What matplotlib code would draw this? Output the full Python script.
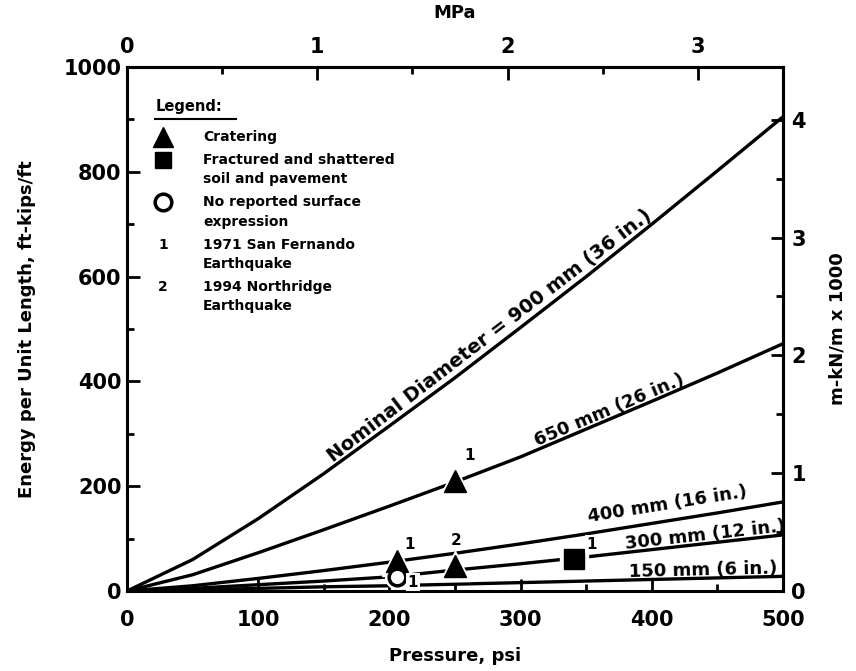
import matplotlib
matplotlib.use("Agg")
import matplotlib.pyplot as plt
import numpy as np

# ---------------- data ----------------
pressure_psi = [0, 50, 100, 150, 200, 250, 300, 350, 400, 450, 500]
energy_900mm = [0, 60, 138, 224, 315, 407, 503, 600, 700, 802, 905]
energy_650mm = [0, 31, 73, 117, 162, 208, 256, 309, 362, 416, 472]
energy_400mm = [0, 10, 24, 39, 55, 72, 90, 109, 129, 149, 170]
energy_300mm = [0, 5, 12, 19, 27, 40, 52, 65, 79, 93, 107]
energy_150mm = [0, 2, 5, 8, 10, 13, 16, 19, 22, 25, 28]

line_labels = ["Nominal Diameter = 900 mm (36 in.)", "650 mm (26 in.)",
               "400 mm (16 in.)", "300 mm (12 in.)", "150 mm (6 in.)"]
label_pos_psi = [276, 368, 412, 441, 439]
label_pos_energy = [488, 345, 166, 107, 40]

cratering_psi = [250, 206, 250]
cratering_energy = [210, 58, 48]
fractured_psi = [341]
fractured_energy = [62]
no_surface_psi = [206]
no_surface_energy = [27]

event_text = ["1", "1", "2", "1", "1"]
event_psi = [261, 215, 251, 218, 354]
event_energy = [258, 88, 97, 17, 89]

x_ticks = [0, 100, 200, 300, 400, 500]
y_ticks = [0, 200, 400, 600, 800, 1000]
mpa_ticks = [0, 1, 2, 3]
mkn_ticks = [0, 1, 2, 3, 4]

PSI_TO_MPA = 0.00689476
FTKIP_TO_MKN1000 = 4.448 / 1000.0

# ---------------- figure ----------------
plt.rcParams["font.family"] = ["DejaVu Sans"]
plt.rcParams["font.weight"] = "bold"
plt.rcParams["axes.labelweight"] = "bold"
fig = plt.figure(figsize=(8.56, 6.71), dpi=100)
ax = fig.add_axes([127 / 856, 1 - 591 / 671, 656 / 856, 524 / 671])

lw = 2.4
for e in [energy_900mm, energy_650mm, energy_400mm, energy_300mm, energy_150mm]:
    ax.plot(pressure_psi, e, color="black", lw=lw, zorder=2, solid_capstyle="round",
            solid_joinstyle="round")

# markers with white halo (gap in lines)
ax.plot(cratering_psi, cratering_energy, ls="none", marker="^", ms=22, color="white", zorder=3)
ax.plot(cratering_psi, cratering_energy, ls="none", marker="^", ms=16, color="black", zorder=4)
ax.plot(fractured_psi, fractured_energy, ls="none", marker="s", ms=20, color="white", zorder=3)
ax.plot(fractured_psi, fractured_energy, ls="none", marker="s", ms=15, color="black", zorder=4)
ax.plot(no_surface_psi, no_surface_energy, ls="none", marker="o", ms=17, color="white", zorder=3)
ax.plot(no_surface_psi, no_surface_energy, ls="none", marker="o", ms=12, mfc="white",
        mec="black", mew=2.5, zorder=4)

for t, xx, yy in zip(event_text, event_psi, event_energy):
    ax.text(xx, yy, t, fontsize=11, ha="center", va="center", zorder=5,
            bbox=dict(boxstyle="square,pad=0.1", fc="white", ec="none"))

ax.set_xlim(0, 500)
ax.set_ylim(0, 1000)

# line labels rotated along the curves
fig.canvas.draw()
curves = [energy_900mm, energy_650mm, energy_400mm, energy_300mm, energy_150mm]
sizes = [14, 13, 13, 13, 13]
for lab, px, py, e, fs in zip(line_labels, label_pos_psi, label_pos_energy, curves, sizes):
    slope = np.interp(px + 20, pressure_psi, e) - np.interp(px - 20, pressure_psi, e)
    p1 = ax.transData.transform((px - 20, 0))
    p2 = ax.transData.transform((px + 20, slope))
    ang = np.degrees(np.arctan2(p2[1] - p1[1], p2[0] - p1[0]))
    ax.text(px, py, lab, fontsize=fs, rotation=ang, rotation_mode="anchor",
            ha="center", va="center", zorder=5)

# ticks
ax.set_xticks(x_ticks)
ax.set_yticks(y_ticks)
ax.set_xticks(np.arange(50, 500, 100), minor=True)
ax.set_yticks(np.arange(100, 1000, 200), minor=True)
ax.tick_params(which="both", direction="in", width=2)
ax.tick_params(which="major", length=9, labelsize=15)
ax.tick_params(axis="x", which="major", pad=14)
ax.tick_params(axis="y", which="major", pad=4)
ax.tick_params(which="minor", length=5)
for s in ax.spines.values():
    s.set_linewidth(2.2)

top = ax.secondary_xaxis("top", functions=(lambda p: p * PSI_TO_MPA, lambda m: m / PSI_TO_MPA))
top.set_xticks(mpa_ticks)
top.set_xticks([0.5, 1.5, 2.5], minor=True)
top.tick_params(which="both", direction="in", width=2)
top.tick_params(which="major", length=9, labelsize=15, pad=7)
top.tick_params(which="minor", length=5)
top.spines["top"].set_linewidth(2.2)
top.set_xlabel("MPa", fontsize=13, labelpad=14)

right = ax.secondary_yaxis("right", functions=(lambda v: v * FTKIP_TO_MKN1000,
                                               lambda m: m / FTKIP_TO_MKN1000))
right.set_yticks(mkn_ticks)
right.set_yticks([0.5, 1.5, 2.5, 3.5], minor=True)
right.tick_params(which="both", direction="in", width=2)
right.tick_params(which="major", length=9, labelsize=15, pad=6)
right.tick_params(which="minor", length=5)
right.spines["right"].set_linewidth(2.2)
right.set_ylabel("m-kN/m x 1000", fontsize=13, labelpad=16)

ax.set_xlabel("Pressure, psi", fontsize=13, labelpad=12)
ax.set_ylabel("Energy per Unit Length, ft-kips/ft", fontsize=13, labelpad=20)

# ---------------- legend (manual) ----------------
def fx(px):
    return (px - 127) / 656.0

def fy(py):
    return (591 - py) / 524.0

T = ax.transAxes
lfs = 10
ax.text(fx(156), fy(107), "Legend:", transform=T, fontsize=lfs + 0.5, va="center", ha="left")
ax.plot([fx(155), fx(236)], [fy(119), fy(119)], transform=T, color="black", lw=1.5)
mx = fx(163)
tx = fx(203)
ax.plot([mx], [fy(137)], transform=T, marker="^", ms=15, color="black")
ax.text(tx, fy(137), "Cratering", transform=T, fontsize=lfs, va="center")
ax.plot([mx], [fy(160)], transform=T, marker="s", ms=12, color="black")
ax.text(tx, fy(160), "Fractured and shattered", transform=T, fontsize=lfs, va="center")
ax.text(tx, fy(179), "soil and pavement", transform=T, fontsize=lfs, va="center")
ax.plot([mx], [fy(202)], transform=T, marker="o", ms=12, mfc="white", mec="black", mew=2.5)
ax.text(tx, fy(202), "No reported surface", transform=T, fontsize=lfs, va="center")
ax.text(tx, fy(222), "expression", transform=T, fontsize=lfs, va="center")
ax.text(mx, fy(245), "1", transform=T, fontsize=lfs, va="center", ha="center")
ax.text(tx, fy(245), "1971 San Fernando", transform=T, fontsize=lfs, va="center")
ax.text(tx, fy(264), "Earthquake", transform=T, fontsize=lfs, va="center")
ax.text(mx, fy(287), "2", transform=T, fontsize=lfs, va="center", ha="center")
ax.text(tx, fy(287), "1994 Northridge", transform=T, fontsize=lfs, va="center")
ax.text(tx, fy(306), "Earthquake", transform=T, fontsize=lfs, va="center")

fig.savefig("out.png", dpi=100)
